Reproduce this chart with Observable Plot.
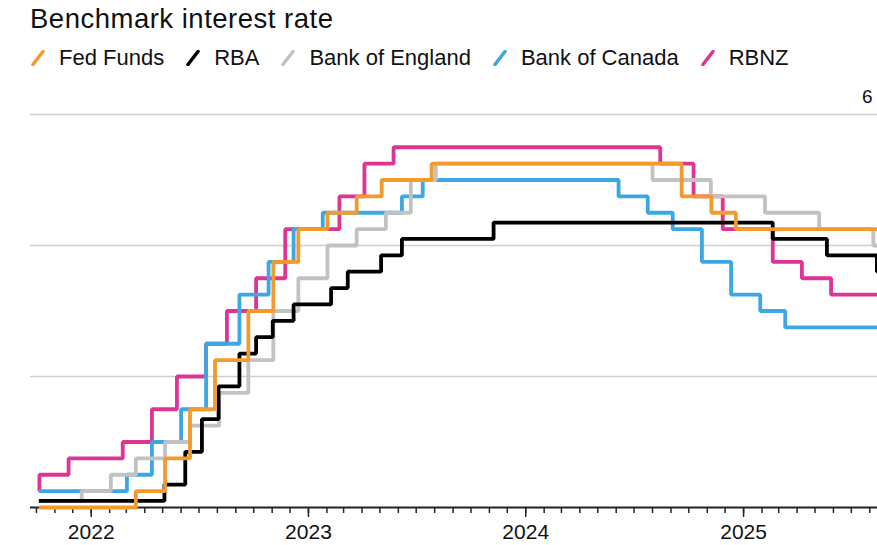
<!DOCTYPE html>
<html>
<head>
<meta charset="utf-8">
<script src="https://cdn.jsdelivr.net/npm/d3@7"></script>
<script src="https://cdn.jsdelivr.net/npm/@observablehq/plot@0.6"></script>
<style>
  html, body { margin: 0; padding: 0; background: #fff; overflow: hidden; }
  body { width: 877px; height: 545px; position: relative; font-family: "Liberation Sans", Arial, sans-serif; color: #111; }
  #title { position: absolute; left: 30px; top: 5px; font-size: 27.5px; line-height: 1; letter-spacing: 0.5px; white-space: nowrap; }
  #legend { position: absolute; left: 31px; top: 47px; font-size: 22px; line-height: 1; white-space: nowrap; display: flex; }
  .item { display: flex; align-items: center; margin-right: 22px; }
  .item svg { margin-right: 14px; }
  #chart { position: absolute; left: 0; top: 80px; }
</style>
</head>
<body>
<div id="title">Benchmark interest rate</div>
<div id="legend"></div>
<div id="chart"></div>
<script>
// Series names and colours
const seriesNames = ["Fed Funds", "RBA", "Bank of England", "Bank of Canada", "RBNZ"];
const seriesColors = ["#F39A2E", "#000000", "#C2C2C2", "#3CA8E3", "#DD3594"];

const startDate = "2021-10-05";
const endDate = "2025-08-14";

// Fed Funds (lower bound)
const fedDates = [startDate, "2022-03-17", "2022-05-05", "2022-06-16", "2022-07-28", "2022-09-22", "2022-11-03", "2022-12-15", "2023-02-02", "2023-03-23", "2023-05-04", "2023-07-27", "2024-09-19", "2024-11-08", "2024-12-19", endDate];
const fedRates = [0, 0.25, 0.75, 1.5, 2.25, 3.0, 3.75, 4.25, 4.5, 4.75, 5.0, 5.25, 4.75, 4.5, 4.25, 4.25];

// RBA cash rate
const rbaDates = [startDate, "2022-05-04", "2022-06-08", "2022-07-06", "2022-08-03", "2022-09-07", "2022-10-05", "2022-11-02", "2022-12-07", "2023-02-08", "2023-03-08", "2023-05-03", "2023-06-07", "2023-11-08", "2025-02-19", "2025-05-21", "2025-08-13", endDate];
const rbaRates = [0.1, 0.35, 0.85, 1.35, 1.85, 2.35, 2.6, 2.85, 3.1, 3.35, 3.6, 3.85, 4.1, 4.35, 4.1, 3.85, 3.6, 3.6];

// Bank of England bank rate
const boeDates = [startDate, "2021-12-16", "2022-02-03", "2022-03-17", "2022-05-05", "2022-06-16", "2022-08-04", "2022-09-22", "2022-11-03", "2022-12-15", "2023-02-02", "2023-03-23", "2023-05-11", "2023-06-22", "2023-08-03", "2024-08-01", "2024-11-07", "2025-02-06", "2025-05-08", "2025-08-07", endDate];
const boeRates = [0.1, 0.25, 0.5, 0.75, 1.0, 1.25, 1.75, 2.25, 3.0, 3.5, 4.0, 4.25, 4.5, 5.0, 5.25, 5.0, 4.75, 4.5, 4.25, 4.0, 4.0];

// Bank of Canada overnight rate
const bocDates = [startDate, "2022-03-02", "2022-04-13", "2022-06-01", "2022-07-13", "2022-09-07", "2022-10-26", "2022-12-07", "2023-01-25", "2023-06-07", "2023-07-12", "2024-06-05", "2024-07-24", "2024-09-04", "2024-10-23", "2024-12-11", "2025-01-29", "2025-03-12", endDate];
const bocRates = [0.25, 0.5, 1.0, 1.5, 2.5, 3.25, 3.75, 4.25, 4.5, 4.75, 5.0, 4.75, 4.5, 4.25, 3.75, 3.25, 3.0, 2.75, 2.75];

// RBNZ official cash rate
const rbnzDates = [startDate, "2021-10-06", "2021-11-24", "2022-02-23", "2022-04-13", "2022-05-25", "2022-07-13", "2022-08-17", "2022-10-05", "2022-11-23", "2023-02-22", "2023-04-05", "2023-05-24", "2024-08-14", "2024-10-09", "2024-11-27", "2025-02-19", "2025-04-09", "2025-05-28", endDate];
const rbnzRates = [0.25, 0.5, 0.75, 1.0, 1.5, 2.0, 2.5, 3.0, 3.5, 4.25, 4.75, 5.25, 5.5, 5.25, 4.75, 4.25, 3.75, 3.5, 3.25, 3.25];

// Axis
const xDomainStart = "2021-09-21";
const xDomainEnd = endDate;
const yDomain = [0, 6];
const gridTicks = [2, 4, 6];
const yLabelTicks = [6];
const yearTicks = ["2022-01-01", "2023-01-01", "2024-01-01", "2025-01-01"];

// Build table
const parse = d3.utcParse("%Y-%m-%d");
const seriesData = [
  ["Fed Funds", fedDates, fedRates],
  ["RBA", rbaDates, rbaRates],
  ["Bank of England", boeDates, boeRates],
  ["Bank of Canada", bocDates, bocRates],
  ["RBNZ", rbnzDates, rbnzRates]
];
// draw order: last legend item at the bottom
const drawOrder = ["RBNZ", "Bank of Canada", "Bank of England", "RBA", "Fed Funds"];
const rows = [];
for (const name of drawOrder) {
  const [n, dates, rates] = seriesData.find(s => s[0] === name);
  dates.forEach((d, i) => rows.push({series: n, date: parse(d), rate: rates[i]}));
}

const x0 = parse(xDomainStart), x1 = parse(xDomainEnd);
const monthTicks = d3.utcMonths(d3.utcMonth.ceil(x0), x1);
const yearTickDates = yearTicks.map(parse);

// Legend
const legend = document.getElementById("legend");
seriesNames.forEach((name, i) => {
  const item = document.createElement("div");
  item.className = "item";
  item.innerHTML = `<svg width="14" height="16" viewBox="0 0 14 16"><line x1="2" y1="14.5" x2="12" y2="1.5" stroke="${seriesColors[i]}" stroke-width="3.5" stroke-linecap="round"/></svg><span>${name}</span>`;
  legend.appendChild(item);
});

const chart = Plot.plot({
  width: 877,
  height: 465,
  marginTop: 34,
  marginBottom: 38,
  marginLeft: 30,
  marginRight: 0,
  style: {fontFamily: '"Liberation Sans", Arial, sans-serif', fontSize: "21px", color: "#111", background: "#fff", overflow: "visible"},
  x: {type: "utc", domain: [x0, x1]},
  y: {domain: yDomain},
  color: {domain: seriesNames, range: seriesColors},
  marks: [
    Plot.gridY({ticks: gridTicks, stroke: "#cfcfcf", strokeOpacity: 1, strokeWidth: 1.6}),
    Plot.axisY({ticks: yLabelTicks, anchor: "right", tickSize: 0, tickPadding: 0, textAnchor: "end", dx: -5, dy: -18, fontSize: 19, tickFormat: d3.format("d"), label: null}),
    Plot.axisX({ticks: monthTicks, tickSize: 6, tickFormat: () => "", strokeWidth: 1.5, stroke: "#222", label: null}),
    Plot.axisX({ticks: yearTickDates, tickSize: 10, tickPadding: 7, tickFormat: d3.utcFormat("%Y"), strokeWidth: 1.5, stroke: "#222", fontSize: 21, label: null}),
    Plot.ruleY([0], {stroke: "#222", strokeWidth: 2}),
    Plot.line(rows, {x: "date", y: "rate", z: "series", stroke: "series", curve: "step-after", strokeWidth: 3.8, strokeLinejoin: "miter", strokeLinecap: "butt"})
  ]
});
document.getElementById("chart").appendChild(chart);
</script>
</body>
</html>
